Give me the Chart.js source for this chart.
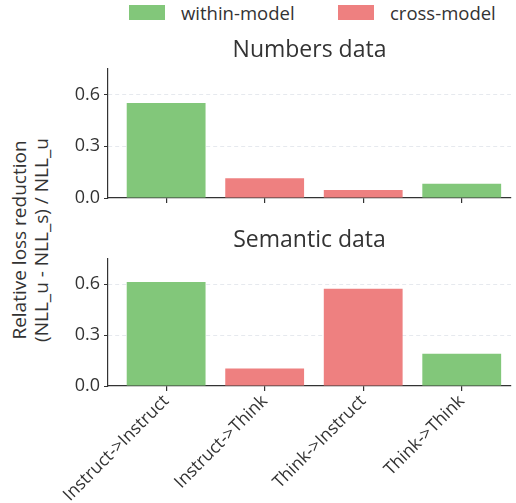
<!DOCTYPE html>
<html>
<head>
<meta charset="utf-8">
<script src="https://cdn.jsdelivr.net/npm/chart.js@4/dist/chart.umd.min.js"></script>
<style>
  body { margin: 0; background: #fff; font-family: "Open Sans", sans-serif; color: #333; }
  #wrap { position: relative; width: 516px; height: 503px; overflow: hidden; }
  canvas { position: absolute; left: 0; }
  .legend { position: absolute; top: 0px; font-size: 18.5px; line-height: 25px; }
  .legend span.box { position: absolute; top: 5px; width: 36px; height: 15px; }
  .legend span.lab { position: absolute; left: 52px; top: 0; white-space: nowrap; }
  #ylab { position: absolute; left: 30px; top: 240px; transform: translate(-50%, -50%) rotate(-90deg);
          font-size: 19px; line-height: 22px; text-align: center; white-space: nowrap; }
</style>
</head>
<body>
<div id="wrap">
  <div class="legend" style="left:129px"><span class="box" id="boxWithin"></span><span class="lab">within-model</span></div>
  <div class="legend" style="left:338px"><span class="box" id="boxCross"></span><span class="lab">cross-model</span></div>
  <div id="ylab">Relative loss reduction<br>(NLL_u - NLL_s) / NLL_u</div>
  <canvas id="numbersChart" style="top:30px" width="516" height="183"></canvas>
  <canvas id="semanticChart" style="top:220px" width="516" height="283"></canvas>
</div>
<script>
const categories = ["Instruct->Instruct", "Instruct->Think", "Think->Instruct", "Think->Think"];
const pairType = ["within", "cross", "cross", "within"];
const numbersValues = [0.55, 0.115, 0.047, 0.083];
const semanticValues = [0.612, 0.103, 0.573, 0.19];
const yTicks = [0, 0.3, 0.6];

const colors = { within: "#82c77a", cross: "#ee8080" };
document.getElementById("boxWithin").style.background = colors.within;
document.getElementById("boxCross").style.background = colors.cross;

const FONT = "'Open Sans', sans-serif";
const ink = "#333";

function makeChart(id, title, values, showLabels, xHeight) {
  return new Chart(document.getElementById(id), {
    type: "bar",
    data: {
      datasets: [{
        data: values.map((v, i) => ({ x: i, y: v })),
        backgroundColor: pairType.map((t) => colors[t]),
        borderWidth: 0,
        barPercentage: 0.8,
        categoryPercentage: 1.0,
      }],
    },
    options: {
      responsive: false,
      animation: false,
      layout: { padding: { left: 0, right: 5, top: 0, bottom: 0 } },
      plugins: {
        legend: { display: false },
        tooltip: { enabled: false },
        title: {
          display: true,
          text: title,
          fullSize: false,
          color: ink,
          font: { family: FONT, size: 23, weight: "normal", lineHeight: 1.2 },
          padding: { top: 7, bottom: 4 },
        },
      },
      scales: {
        x: {
          type: "linear",
          offset: false,
          min: -0.59,
          max: 3.5,
          afterBuildTicks: (s) => { s.ticks = categories.map((c, i) => ({ value: i })); },
          afterFit: (s) => { s.height = xHeight; },
          grid: { offset: false, drawOnChartArea: false, drawTicks: true, tickLength: 5, color: ink, lineWidth: 1.2 },
          border: { display: true, color: ink, width: 1.2 },
          ticks: {
            display: showLabels,
            autoSkip: false,
            maxRotation: 45,
            minRotation: 45,
            padding: 0,
            color: ink,
            font: { family: FONT, size: 17.5 },
            callback: (v) => categories[v],
          },
        },
        y: {
          min: 0,
          max: 0.75,
          afterBuildTicks: (s) => { s.ticks = yTicks.map((v) => ({ value: v })); },
          afterFit: (s) => { s.width = 108; },
          grid: {
            drawTicks: true,
            tickLength: 4,
            color: (ctx) => (ctx.tick && ctx.tick.value === 0 ? "rgba(0,0,0,0)" : "#e6e9ee"),
            tickColor: ink,
            lineWidth: 1,
          },
          border: { display: true, color: ink, width: 1.2, dash: [4, 3] },
          ticks: {
            padding: 4,
            color: ink,
            font: { family: FONT, size: 18 },
            callback: (v) => v.toFixed(1),
          },
        },
      },
    },
  });
}

makeChart("numbersChart", "Numbers data", numbersValues, false, 15);
makeChart("semanticChart", "Semantic data", semanticValues, true, 117);
</script>
</body>
</html>
